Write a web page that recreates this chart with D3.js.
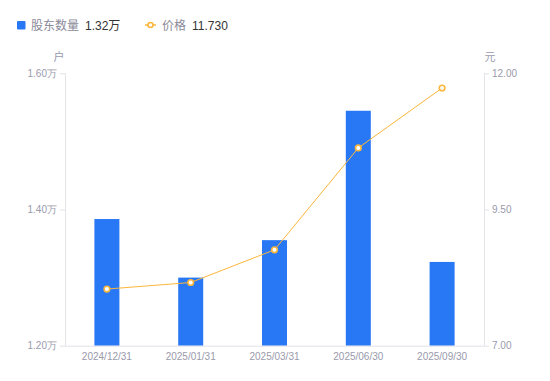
<!DOCTYPE html>
<html>
<head>
<meta charset="utf-8">
<script src="https://d3js.org/d3.v7.min.js"></script>
<style>
  body { margin: 0; background: #fff; }
  svg { font-family: "Liberation Sans", "Noto Sans CJK SC", sans-serif; }
</style>
</head>
<body>
<div id="chart"></div>
<script>
// 数据
var dates = ["2024/12/31", "2025/01/31", "2025/03/31", "2025/06/30", "2025/09/30"];
var holders = [1.386, 1.300, 1.355, 1.545, 1.323]; // 股东数量(万户)
var prices = [8.04, 8.16, 8.76, 10.63, 11.73];     // 价格(元)
var leftTicks = [1.20, 1.40, 1.60];
var rightTicks = [7.00, 9.50, 12.00];

var W = 550, H = 381;
// 注意: window.top 是只读的, 不能用 top 作变量名
var pLeft = 65, pRight = 484, pTop = 73.3, pBottom = 345.7;
var barColor = "#2878f5", lineColor = "#fbb63c", axisColor = "#e3e3e8", tickText = "#9a9aab";

var svg = d3.select("#chart").append("svg").attr("width", W).attr("height", H);

var x = d3.scaleBand().domain(dates).range([pLeft, pRight]).paddingInner(0).paddingOuter(0);
var yL = d3.scaleLinear().domain([1.20, 1.60]).range([pBottom, pTop]);
var yR = d3.scaleLinear().domain([7, 12]).range([pBottom, pTop]);

// 柱
var bw = 25;
svg.selectAll("rect.bar")
    .data(holders)
    .enter()
    .append("rect")
    .attr("class", "bar")
    .attr("x", function(d, i) { return x(dates[i]) + x.bandwidth() / 2 - bw / 2 })
    .attr("y", function(d) { return yL(d) })
    .attr("width", bw)
    .attr("height", function(d) { return pBottom - yL(d) })
    .attr("fill", barColor);

// 坐标轴
var axL = svg.append("g").attr("transform", "translate(" + pLeft + ",0)")
    .call(d3.axisLeft(yL).tickValues(leftTicks).tickSize(5).tickPadding(3)
        .tickFormat(function(d) { return d.toFixed(2) + "万" }));
var axR = svg.append("g").attr("transform", "translate(" + pRight + ",0)")
    .call(d3.axisRight(yR).tickValues(rightTicks).tickSize(5).tickPadding(3)
        .tickFormat(function(d) { return d.toFixed(2) }));
var axB = svg.append("g").attr("transform", "translate(0," + pBottom + ")")
    .call(d3.axisBottom(x).tickSize(0).tickPadding(7));
[axL, axR, axB].forEach(function(g) {
    g.select(".domain").attr("stroke", axisColor);
    g.selectAll(".tick line").attr("stroke", axisColor);
    g.selectAll(".tick text").attr("fill", tickText).style("font-size", "10px");
});
axL.select(".domain").attr("d", "M0.5," + pTop + "V" + pBottom);
axR.select(".domain").attr("d", "M0.5," + pTop + "V" + pBottom);
axB.select(".domain").attr("d", "M" + pLeft + ",0.5H" + pRight);

// 轴名
svg.append("text").attr("x", 59).attr("y", 61).attr("text-anchor", "middle")
    .attr("fill", tickText).style("font-size", "11px").text("户");
svg.append("text").attr("x", 490).attr("y", 61).attr("text-anchor", "middle")
    .attr("fill", tickText).style("font-size", "11px").text("元");

// 折线
var line = d3.line()
    .x(function(d, i) { return x(dates[i]) + x.bandwidth() / 2 })
    .y(function(d) { return yR(d) });
svg.append("path").datum(prices)
    .attr("d", line)
    .attr("fill", "none")
    .attr("stroke", lineColor)
    .attr("stroke-width", 1);
svg.selectAll("circle.pt")
    .data(prices)
    .enter()
    .append("circle")
    .attr("class", "pt")
    .attr("cx", function(d, i) { return x(dates[i]) + x.bandwidth() / 2 })
    .attr("cy", function(d) { return yR(d) })
    .attr("r", 2.8)
    .attr("fill", "#fff")
    .attr("stroke", lineColor)
    .attr("stroke-width", 1.6);

// 图例
var lg = svg.append("g").style("font-size", "12px");
lg.append("rect").attr("x", 17).attr("y", 21).attr("width", 8.5).attr("height", 8.5)
    .attr("rx", 1).attr("fill", barColor);
lg.append("text").attr("x", 31).attr("y", 29.5).attr("fill", "#8a8a99").text("股东数量");
lg.append("text").attr("x", 85).attr("y", 29.5).attr("fill", "#333").text(d3.format(".2f")(holders[4]) + "万");
lg.append("line").attr("x1", 145).attr("x2", 156).attr("y1", 25).attr("y2", 25)
    .attr("stroke", lineColor).attr("stroke-width", 1.5);
lg.append("circle").attr("cx", 150.5).attr("cy", 25).attr("r", 2.5)
    .attr("fill", "#fff").attr("stroke", lineColor).attr("stroke-width", 1.6);
lg.append("text").attr("x", 162).attr("y", 29.5).attr("fill", "#8a8a99").text("价格");
lg.append("text").attr("x", 192).attr("y", 29.5).attr("fill", "#333").text(d3.format(".3f")(prices[4]));
</script>
</body>
</html>
